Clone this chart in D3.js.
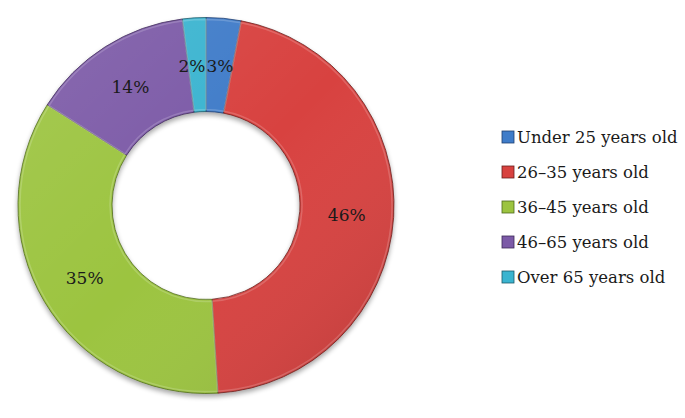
<!DOCTYPE html>
<html>
<head>
<meta charset="utf-8">
<script src="https://cdn.jsdelivr.net/npm/d3@7"></script>
<style>
  html, body { margin: 0; padding: 0; background: #ffffff; }
  svg { display: block; }
</style>
</head>
<body>
<svg id="chart" width="685" height="418"></svg>
<script>
const categories = ["Under 25 years old", "26–35 years old", "36–45 years old", "46–65 years old", "Over 65 years old"];
const values = [3, 46, 35, 14, 2];
const labels = ["3%", "46%", "35%", "14%", "2%"];
const colors = ["#3f7cc9", "#d8423f", "#9cc440", "#7c5aa7", "#3ab4d0"];
const strokes = ["#1f3f70", "#6a1f1d", "#4f6a1d", "#3d2a57", "#1c5a6a"];

const FONT = "'DejaVu Serif', serif";
const svg = d3.select("#chart");
const cx = 206, cy = 205.5, outerR = 188, innerR = 94;

const defs = svg.append("defs");
const shadow = defs.append("filter").attr("id", "shadow")
  .attr("x", "-20%").attr("y", "-20%").attr("width", "140%").attr("height", "140%");
shadow.append("feGaussianBlur").attr("in", "SourceAlpha").attr("stdDeviation", 2.5).attr("result", "b");
shadow.append("feOffset").attr("in", "b").attr("dx", 0).attr("dy", 3).attr("result", "o");
shadow.append("feComponentTransfer").attr("in", "o").attr("result", "s")
  .append("feFuncA").attr("type", "linear").attr("slope", 0.35);
const merge = shadow.append("feMerge");
merge.append("feMergeNode").attr("in", "s");
merge.append("feMergeNode").attr("in", "SourceGraphic");

const light = defs.append("linearGradient").attr("id", "light")
  .attr("gradientUnits", "userSpaceOnUse")
  .attr("x1", -outerR).attr("y1", -outerR)
  .attr("x2", outerR).attr("y2", outerR);
light.append("stop").attr("offset", "0%").attr("stop-color", "#ffffff").attr("stop-opacity", 0.10);
light.append("stop").attr("offset", "50%").attr("stop-color", "#ffffff").attr("stop-opacity", 0.0);
light.append("stop").attr("offset", "100%").attr("stop-color", "#000000").attr("stop-opacity", 0.14);

const pie = d3.pie().sort(null).value(d => d);
const arcs = pie(values);
const arc = d3.arc().innerRadius(innerR).outerRadius(outerR);
const labelArc = d3.arc().innerRadius(141).outerRadius(141);

const g = svg.append("g").attr("transform", `translate(${cx},${cy})`);
const ring = g.append("g").attr("filter", "url(#shadow)");
ring.selectAll("path.slice").data(arcs).enter().append("path")
  .attr("class", "slice")
  .attr("d", arc)
  .attr("fill", (d, i) => colors[i])
  .attr("stroke", (d, i) => strokes[i])
  .attr("stroke-width", 0.8);

g.selectAll("path.light").data(arcs).enter().append("path")
  .attr("class", "light")
  .attr("d", arc)
  .attr("fill", "url(#light)")
  .attr("pointer-events", "none");

const bevelArc = d3.arc().innerRadius(innerR + 2).outerRadius(outerR - 2);
g.selectAll("path.bevel").data(arcs).enter().append("path")
  .attr("class", "bevel")
  .attr("d", bevelArc)
  .attr("fill", "none")
  .attr("stroke", "#ffffff")
  .attr("stroke-opacity", 0.18)
  .attr("stroke-width", 1.5);

const anchorFor = (d) => (d.data < 5 ? ((d.startAngle + d.endAngle) / 2 > Math.PI ? "end" : "start") : "middle");
g.selectAll("text.lbl").data(arcs).enter().append("text")
  .attr("class", "lbl")
  .attr("transform", d => {
    const c = labelArc.centroid(d);
    if (d.data < 5) {
      const mid = (d.startAngle + d.endAngle) / 2;
      return `translate(${mid > Math.PI ? -0.5 : 0.5},${c[1] + 1})`;
    }
    return `translate(${c[0]},${c[1] + 1})`;
  })
  .attr("text-anchor", anchorFor)
  .attr("dy", "0.35em")
  .style("font-family", FONT)
  .style("font-size", "17px")
  .attr("fill", "#1a1a1a")
  .text((d, i) => labels[i]);

const legendY = d3.scalePoint().domain(categories).range([137, 277]);
const legend = svg.append("g");
const items = legend.selectAll("g").data(categories).enter().append("g")
  .attr("transform", d => `translate(502,${legendY(d)})`);
items.append("rect")
  .attr("x", 0).attr("y", -6).attr("width", 12).attr("height", 12)
  .attr("fill", (d, i) => colors[i])
  .attr("stroke", (d, i) => strokes[i])
  .attr("stroke-width", 0.8);
items.append("text")
  .attr("x", 15).attr("y", 0).attr("dy", "0.36em")
  .style("font-family", FONT)
  .style("font-size", "16.5px")
  .attr("fill", "#1a1a1a")
  .text(d => d);
</script>
</body>
</html>
